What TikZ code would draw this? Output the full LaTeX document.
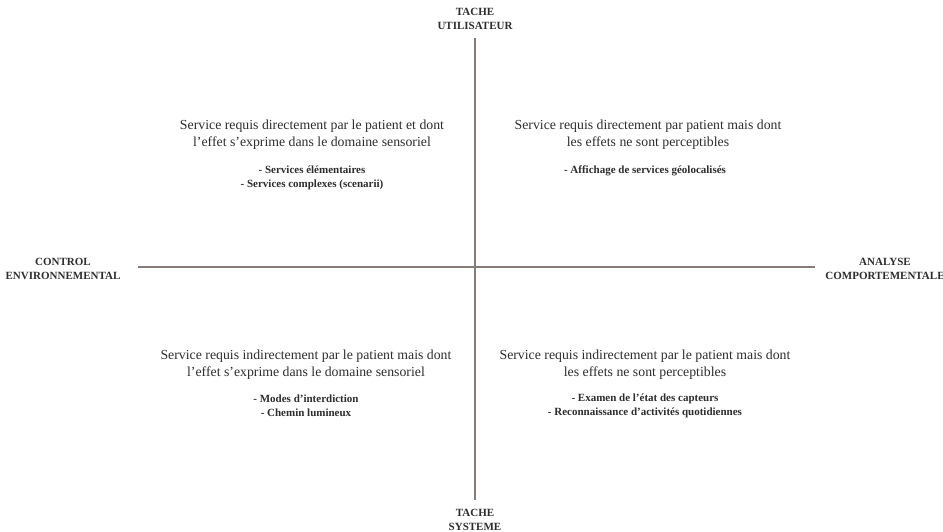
\documentclass[tikz,border=0pt]{standalone}
\usepackage{fontspec}
\setmainfont{Liberation Serif}
\definecolor{axiscol}{RGB}{135,124,120}
\definecolor{txtcol}{RGB}{45,45,45}
\tikzset{
  axis/.style={draw=axiscol, line width=2.4pt},
  desc/.style={align=center, text=txtcol, inner sep=0pt, font=\fontsize{13.8}{17}\selectfont},
  items/.style={align=center, text=txtcol, inner sep=0pt, font=\fontsize{11}{14}\selectfont\bfseries},
  axlabel/.style={align=center, text=txtcol, inner sep=0pt, font=\fontsize{11}{14}\selectfont\bfseries}
}
\begin{document}
\begin{tikzpicture}[x=1pt,y=-1pt]
\useasboundingbox (0,0) rectangle (943,532);
% axes
\coordinate (top) at (475,38);
\coordinate (bot) at (475,500);
\coordinate (left) at (138,267);
\coordinate (right) at (815,267);
\draw[axis] (top) -- (bot);
\draw[axis] (left) -- (right);
% axis labels
\node[axlabel] (tu) at (475,19) {TACHE\\UTILISATEUR};
\node[axlabel] (ts) at (475,520) {TACHE\\SYSTEME};
\node[axlabel] (ce) at (63,268.5) {CONTROL\\ENVIRONNEMENTAL};
\node[axlabel] (ac) at (885,268.5) {ANALYSE\\COMPORTEMENTALE};
% quadrants
\node[desc] (q1) at (312,135) {Service requis directement par le patient et dont\\l’effet s’exprime dans le domaine sensoriel};
\node[items] (q1i) at (312,177.5) {- Services élémentaires\\- Services complexes (scenarii)};
\node[desc] (q2) at (648,135) {Service requis directement par patient mais dont\\les effets ne sont perceptibles};
\node[items] (q2i) at (645,171) {- Affichage de services géolocalisés};
\node[desc] (q3) at (306,364.5) {Service requis indirectement par le patient mais dont\\l’effet s’exprime dans le domaine sensoriel};
\node[items] (q3i) at (306,405.5) {- Modes d’interdiction\\- Chemin lumineux};
\node[desc] (q4) at (645,364.5) {Service requis indirectement par le patient mais dont\\les effets ne sont perceptibles};
\node[items] (q4i) at (645,405.5) {- Examen de l’état des capteurs\\- Reconnaissance d’activités quotidiennes};
\end{tikzpicture}
\end{document}
